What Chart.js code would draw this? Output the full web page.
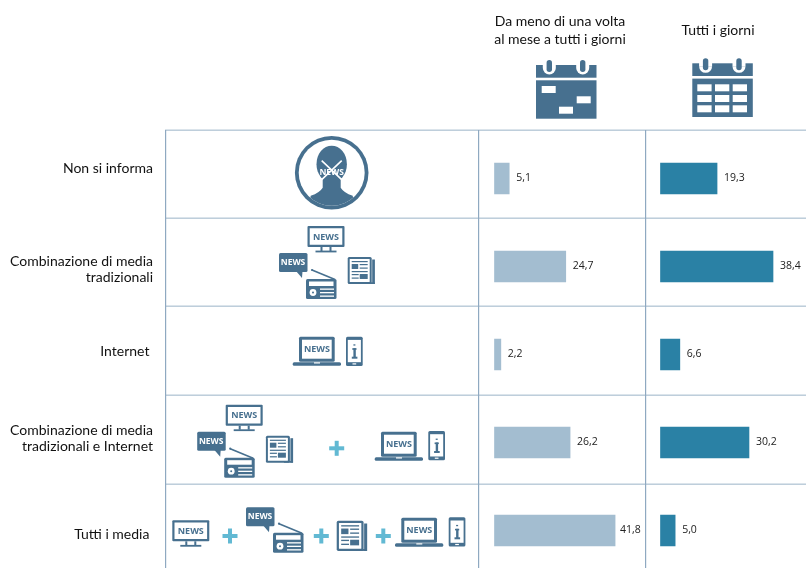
<!DOCTYPE html>
<html><head><meta charset="utf-8">
<script src="https://cdn.jsdelivr.net/npm/chart.js@4"></script>
<style>html,body{margin:0;background:#fff;height:568px;overflow:hidden}canvas{display:block}</style>
</head><body><canvas id="c" width="806" height="575"></canvas>
<script>
// ---- data ----
const categories = [
  ["Non si informa"],
  ["Combinazione di media", "tradizionali"],
  ["Internet "],
  ["Combinazione di media", "tradizionali e Internet"],
  ["Tutti i media "]
];
const seriesNames = ["Da meno di una volta al mese a tutti i giorni", "Tutti i giorni"];
const occasionalValues = [5.1, 24.7, 2.2, 26.2, 41.8];
const dailyValues = [19.3, 38.4, 6.6, 30.2, 5.0];

// ---- styling / layout ----
const DARK = "#47708F", PLUS = "#62B9D3", LIGHTBAR = "#A3BDD0", TEAL = "#2A81A5";
const LEFT = 165, W = 806;
const scaleA = {zero: 494.5, perUnit: 2.885}, scaleB = {zero: 660.5, perUnit: 2.93};
const labelNudge = [-10, 3, -3, -4, 4];
const FONT = "Lato, 'Open Sans', sans-serif";

function rr(c, x, y, w, h, r, fill) {
  c.beginPath(); c.roundRect(x, y, w, h, r); c.fillStyle = fill; c.fill();
}
function news(c, x, y, size, col) {
  c.font = "bold " + size + "px 'Open Sans', sans-serif"; c.fillStyle = col;
  c.textAlign = "center"; c.textBaseline = "middle"; c.fillText("NEWS", x, y);
}
function tv(c, x, y) {
  rr(c, x, y, 37, 21, 1, DARK); rr(c, x + 2.2, y + 2.2, 32.6, 16.6, 0, "#fff");
  news(c, x + 18.5, y + 11, 9, DARK);
  c.fillStyle = DARK; c.fillRect(x + 13, y + 21, 2, 4); c.fillRect(x + 22, y + 21, 2, 4); c.fillRect(x + 8, y + 24.6, 21, 1.8);
}
function bubble(c, x, y) {
  rr(c, x, y, 28.5, 19, 1.5, DARK);
  c.beginPath(); c.moveTo(x + 17, y + 18); c.lineTo(x + 23, y + 25); c.lineTo(x + 23.5, y + 18); c.fillStyle = DARK; c.fill();
  news(c, x + 14, y + 9.5, 8.5, "#fff");
}
function radio(c, x, y) {
  c.strokeStyle = DARK; c.lineWidth = 1.6; c.beginPath(); c.moveTo(x + 6, y - 9); c.lineTo(x + 29, y + 0.5); c.stroke();
  c.beginPath(); c.arc(x + 6, y - 9, 1.1, 0, 7); c.fillStyle = DARK; c.fill();
  rr(c, x, y, 30.5, 20, 1.5, DARK);
  c.fillStyle = "#fff"; c.fillRect(x + 3, y + 2.5, 24.5, 4.5);
  c.beginPath(); c.arc(x + 7, y + 13.5, 3.4, 0, 7); c.fill();
  c.fillStyle = DARK; c.beginPath(); c.arc(x + 7, y + 13.5, 1, 0, 7); c.fill();
  c.fillStyle = "#fff"; for (const d of [9.5, 13, 16.5]) c.fillRect(x + 14, y + d, 14, 1.3);
}
function paper(c, x, y, k) {
  c.save(); c.translate(x, y); c.scale(k, k);
  rr(c, 0, 0, 24, 27, 1.5, DARK); rr(c, 2, 2, 20, 23, 0.5, "#fff");
  c.fillStyle = DARK;
  c.fillRect(24.5, 2.5, 2.7, 24.5); c.fillRect(18, 25.3, 9, 1.7);
  c.fillRect(4, 7, 6.5, 5); c.fillRect(12, 7, 8, 1.2); c.fillRect(12, 10.5, 8, 1.2);
  c.fillRect(4, 4, 16, 1.2); c.fillRect(4, 14, 16, 1.2);
  c.fillRect(4, 17, 7, 1.2); c.fillRect(4, 20.5, 7, 1.2); c.fillRect(12, 17, 8, 5);
  c.restore();
}
function laptop(c, x, y) { // x,y: top-left of screen
  rr(c, x, y, 35.7, 25, 1.5, DARK); rr(c, x + 3, y + 3, 29.7, 19, 0, "#fff");
  news(c, x + 18, y + 12.5, 9, DARK);
  rr(c, x - 6.3, y + 25.6, 48.3, 3.4, 1.5, DARK);
  c.fillStyle = "#fff"; c.fillRect(x + 15, y + 25.6, 6, 1.2);
}
function phone(c, x, y) {
  rr(c, x, y, 16.7, 29.3, 1.5, DARK); c.fillStyle = "#fff"; c.fillRect(x + 1.8, y + 3.2, 13.1, 22.3);
  c.fillStyle = DARK; c.fillRect(x + 7.4, y + 7.6, 2, 1.3);
  c.fillRect(x + 6.3, y + 11.5, 4.2, 1.6); c.fillRect(x + 7.4, y + 11.5, 2.4, 9.5); c.fillRect(x + 5.8, y + 20, 5.6, 2);
  c.fillStyle = "#fff"; c.fillRect(x + 6.5, y + 26.6, 3.7, 1.2);
}
function plus(c, x, y) {
  c.fillStyle = PLUS; c.fillRect(x - 7.5, y - 2, 15, 4); c.fillRect(x - 2, y - 7.5, 4, 15);
}
function traditional(c, dx, dy) {
  tv(c, 307.5 + dx, 226 + dy); bubble(c, 279 + dx, 253 + dy);
  radio(c, 306 + dx, 279 + dy); paper(c, 347.7 + dx, 257 + dy, 1);
}
function person(c, x, y) {
  c.save();
  c.beginPath(); c.arc(x, y, 36.8, 0, 7); c.fillStyle = DARK; c.fill();
  c.beginPath(); c.arc(x, y, 33, 0, 7); c.fillStyle = "#fff"; c.fill(); c.clip();
  c.fillStyle = DARK;
  c.beginPath(); c.ellipse(x, y - 8.5, 15.2, 18.5, 0, 0, 7); c.fill();
  c.beginPath(); c.moveTo(x - 9, y + 6); c.lineTo(x - 9, y + 15); c.quadraticCurveTo(x - 12, y + 20, x - 21, y + 23);
  c.lineTo(x - 24, y + 40); c.lineTo(x + 24, y + 40); c.lineTo(x + 21, y + 23);
  c.quadraticCurveTo(x + 12, y + 20, x + 9, y + 15); c.lineTo(x + 9, y + 6); c.closePath(); c.fill();
  c.restore();
  c.strokeStyle = "#fff"; c.lineWidth = 1.6;
  c.beginPath(); c.moveTo(x - 10, y - 12); c.lineTo(x + 10, y + 7); c.moveTo(x + 10, y - 12); c.lineTo(x - 10, y + 7); c.stroke();
  news(c, x, y, 8.5, "#fff");
}
function calendarFrame(c, x, y) { // x,y: top-left of header band
  const w = 60.5;
  c.fillStyle = DARK; c.fillRect(x, y, w, 12.7); c.fillRect(x, y + 15.3, w, 38.4);
  for (const d of [13.3, 46.7]) {
    c.beginPath(); c.ellipse(x + d, y + 3, 6.5, 6.5, 0, 0, Math.PI); c.fillStyle = "#fff"; c.fill();
    c.fillRect(x + d - 6.5, y - 1, 13, 4);
    rr(c, x + d - 2.7, y - 5, 5.4, 12, 2.7, DARK);
  }
  c.fillStyle = "#fff";
}
function calendars(c) {
  calendarFrame(c, 536, 65);
  c.fillRect(541.7, 86, 14, 7); c.fillRect(576.7, 96.3, 14, 7); c.fillRect(559, 106.7, 14, 7);
  calendarFrame(c, 692.3, 63.3);
  c.fillStyle = "#fff";
  for (const cx of [697.3, 715, 732.7]) for (const cy of [84.3, 95, 105.3]) c.fillRect(cx, cy, 14.3, 7);
}
function text(c, s, x, y, font, col, align) {
  c.font = font; c.fillStyle = col; c.textAlign = align || "center"; c.textBaseline = "middle"; c.fillText(s, x, y);
}

const tablePlugin = {
  id: "table",
  beforeDraw(chart) {
    const c = chart.ctx;
    // nudge the real axis labels to the heights they have in the reference
    const sc = chart.scales.y;
    if (!sc.$nudged) { sc.getLabelItems(chart.chartArea).forEach((it, i) => { it.options.translation[1] += labelNudge[i]; }); sc.$nudged = true; }
    c.save();
    c.fillStyle = "#B7C9D8";
    for (const y of [130, 218, 306, 395, 484]) c.fillRect(LEFT, y - 0.5, W - LEFT, 1.4);
    c.fillStyle = "#8FA9C1";
    for (const x of [165, 478, 645]) c.fillRect(x, 130, 1.2, 438);
    person(c, 331.7, 172.7);
    traditional(c, 0, 0);
    laptop(c, 299, 336.7); phone(c, 346, 336.7);
    traditional(c, -81.8, 178.7); plus(c, 336.7, 448.3);
    laptop(c, 381, 431.7); phone(c, 428.3, 431);
    tv(c, 172.3, 520.3); plus(c, 230, 536);
    bubble(c, 246, 507.3); radio(c, 273, 532.7); plus(c, 321.3, 536);
    paper(c, 336.7, 520.7, 1.12); plus(c, 383.3, 536);
    laptop(c, 401.3, 517.7); phone(c, 448.7, 517.3);
    calendars(c);
    const hf = "14px " + FONT;
    text(c, "Da meno di una volta", 560, 21.5, hf, "#111");
    text(c, "al mese a tutti i giorni", 560, 39.5, hf, "#111");
    text(c, "Tutti i giorni", 718, 30.5, hf, "#111");
    c.restore();
  },
  afterDatasetsDraw(chart) {
    const c = chart.ctx; c.save();
    chart.data.datasets.forEach((ds, di) => {
      chart.getDatasetMeta(di).data.forEach((bar, i) => {
        const gap = ds.data[i] > 40 ? 5 : 7; // the longest bar's label sits closer to fit its panel
        text(c, ds.data[i].toFixed(1).replace(".", ","), bar.x + gap, bar.y - 0.5, "10.5px 'Open Sans', sans-serif", "#222", "left");
      });
    });
    c.restore();
  }
};

new Chart(document.getElementById("c"), {
  type: "bar",
  plugins: [tablePlugin],
  data: {
    labels: categories,
    datasets: [
      {label: seriesNames[0], data: occasionalValues, xAxisID: "xA", backgroundColor: LIGHTBAR, barThickness: 31, grouped: false},
      {label: seriesNames[1], data: dailyValues, xAxisID: "xB", backgroundColor: TEAL, barThickness: 31, grouped: false}
    ]
  },
  options: {
    indexAxis: "y", responsive: false, animation: false, events: [],
    layout: {padding: {top: 134.5, bottom: 0.5, left: 0, right: 0}},
    plugins: {legend: {display: false}, tooltip: {enabled: false}, title: {display: false}},
    scales: {
      y: {
        type: "category", position: "left",
        afterFit(s) { s.width = LEFT; s.paddingTop = 0; s.paddingBottom = 0; },
        grid: {display: false}, border: {display: false},
        ticks: {color: "#111", padding: 4, font: {family: FONT, size: 14}, autoSkip: false}
      },
      xA: {type: "linear", display: false, min: (LEFT - scaleA.zero) / scaleA.perUnit, max: (W - scaleA.zero) / scaleA.perUnit},
      xB: {type: "linear", display: false, min: (LEFT - scaleB.zero) / scaleB.perUnit, max: (W - scaleB.zero) / scaleB.perUnit}
    }
  }
});
</script></body></html>
